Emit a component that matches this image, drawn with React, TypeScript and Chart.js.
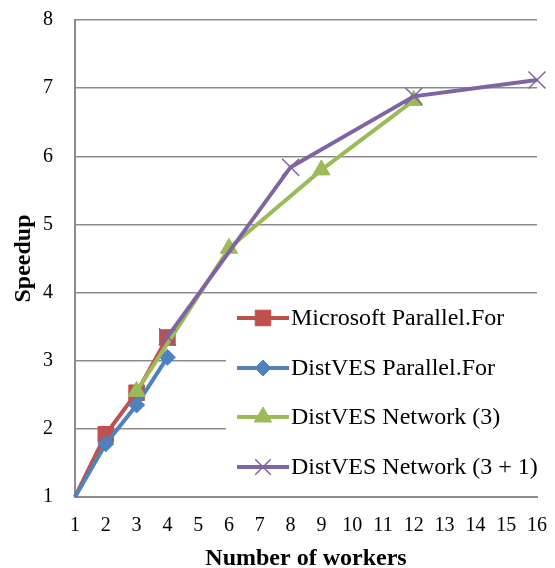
import React, { useEffect, useRef } from 'react';
import { Chart, registerables } from 'chart.js';
import { drawPoint } from 'chart.js/helpers';
Chart.register(...registerables);

const xTicks = [1, 2, 3, 4, 5, 6, 7, 8, 9, 10, 11, 12, 13, 14, 15, 16];
const yTicks = [1, 2, 3, 4, 5, 6, 7, 8];

const msWorkers = [1, 2, 3, 4];
const msSpeedup = [1, 1.92, 2.53, 3.34];

const dvWorkers = [1, 2, 3, 4];
const dvSpeedup = [1, 1.78, 2.35, 3.05];

const net3Workers = [3, 6, 9, 12];
const net3Speedup = [2.55, 4.65, 5.8, 6.82];

const net31Workers = [4, 8, 12, 16];
const net31Speedup = [3.35, 5.84, 6.88, 7.12];

const seriesNames = [
  'Microsoft Parallel.For',
  'DistVES Parallel.For',
  'DistVES Network (3)',
  'DistVES Network (3 + 1)',
];

const RED = '#C0504D';
const BLUE = '#4F81BD';
const GREEN = '#9BBB59';
const PURPLE = '#8064A2';
const GRID = '#8c8c8c';
const CLEAR = 'rgba(0,0,0,0)';
const FONT = '"Liberation Serif", "Times New Roman", serif';

const pts = (xs: number[], ys: number[]) => xs.map((x, i) => ({ x, y: ys[i] }));

const legendStyles = [
  { color: RED, style: 'rect', radius: 11, bw: 1 },
  { color: BLUE, style: 'rectRot', radius: 8, bw: 1 },
  { color: GREEN, style: 'triangle', radius: 10, bw: 1 },
  { color: PURPLE, style: 'crossRot', radius: 11, bw: 1.5 },
];

const legendPlugin = {
  id: 'boxLegend',
  afterDatasetsDraw(chart: any) {
    const ctx = chart.ctx;
    ctx.save();
    ctx.fillStyle = '#ffffff';
    ctx.fillRect(226, 296, 311, 196);
    const rows = [318, 368, 417, 467];
    rows.forEach((y, i) => {
      const s = legendStyles[i];
      ctx.strokeStyle = s.color;
      ctx.lineWidth = 4;
      ctx.lineCap = 'butt';
      ctx.beginPath();
      ctx.moveTo(237, y);
      ctx.lineTo(289, y);
      ctx.stroke();
      ctx.fillStyle = s.color;
      ctx.strokeStyle = s.color;
      ctx.lineWidth = s.bw;
      drawPoint(ctx, { pointStyle: s.style, radius: s.radius, borderWidth: s.bw, rotation: 0 } as any, 263, y);
      ctx.fillStyle = '#000';
      ctx.font = `24px ${FONT}`;
      ctx.textBaseline = 'middle';
      ctx.textAlign = 'left';
      ctx.fillText(seriesNames[i], 291, y + 1);
    });
    ctx.restore();
  },
};

export default function App() {
  const ref = useRef<HTMLCanvasElement | null>(null);
  useEffect(() => {
    document.body.style.margin = '0';
    const canvas = ref.current!;
    const mk = (label: string, data: any, color: string, style: string, radius: number, order: number, bw = 1, hideFirst = false) => ({
      label,
      data,
      borderColor: color,
      backgroundColor: color,
      borderWidth: 4,
      pointStyle: style,
      pointRadius: (c: any) => (hideFirst && c.dataIndex === 0 ? 0 : radius),
      pointBorderWidth: bw,
      pointBackgroundColor: color,
      pointBorderColor: color,
      tension: 0,
      clip: false,
      order,
    });
    const chart = new Chart(canvas, {
      type: 'line',
      data: {
        datasets: [
          mk(seriesNames[0], pts(msWorkers, msSpeedup), RED, 'rect', 11, 3, 1, true),
          mk(seriesNames[1], pts(dvWorkers, dvSpeedup), BLUE, 'rectRot', 8, 2, 1, true),
          mk(seriesNames[2], pts(net3Workers, net3Speedup), GREEN, 'triangle', 10, 1),
          mk(seriesNames[3], pts(net31Workers, net31Speedup), PURPLE, 'crossRot', 12, 0, 1.5),
        ],
      },
      options: {
        responsive: false,
        animation: false,
        layout: { padding: { top: 20, right: 18, left: 0, bottom: 0 } },
        plugins: { legend: { display: false }, tooltip: { enabled: false } },
        scales: {
          x: {
            type: 'linear',
            min: 1,
            max: 16,
            afterBuildTicks: (s: any) => { s.ticks = xTicks.map((v) => ({ value: v })); },
            afterFit: (s: any) => { s.height = 71; },
            grid: { display: true, color: CLEAR, drawTicks: true, tickLength: 17, tickColor: CLEAR },
            border: { display: true, color: GRID, width: 2 },
            ticks: { color: '#000', font: { family: FONT, size: 20 }, padding: 0, maxRotation: 0, autoSkip: false },
            title: {
              display: true,
              text: 'Number of workers',
              color: '#000',
              font: { family: FONT, size: 24, weight: 'bold' },
              padding: { top: 0, bottom: -5 },
            },
          },
          y: {
            min: 1,
            max: 8,
            afterBuildTicks: (s: any) => { s.ticks = yTicks.map((v) => ({ value: v })); },
            afterFit: (s: any) => { s.width = 75; },
            grid: { color: GRID, lineWidth: 1.5, drawTicks: true, tickLength: 22, tickColor: CLEAR },
            border: { display: true, color: GRID, width: 2 },
            ticks: { color: '#000', font: { family: FONT, size: 20 }, padding: 0 },
            title: {
              display: true,
              text: 'Speedup',
              color: '#000',
              font: { family: FONT, size: 24, weight: 'bold' },
              padding: { top: 9, bottom: 0 },
            },
          },
        },
      } as any,
      plugins: [legendPlugin],
    });
    return () => chart.destroy();
  }, []);
  return <canvas ref={ref} width={555} height={568} style={{ display: 'block' }} />;
}
